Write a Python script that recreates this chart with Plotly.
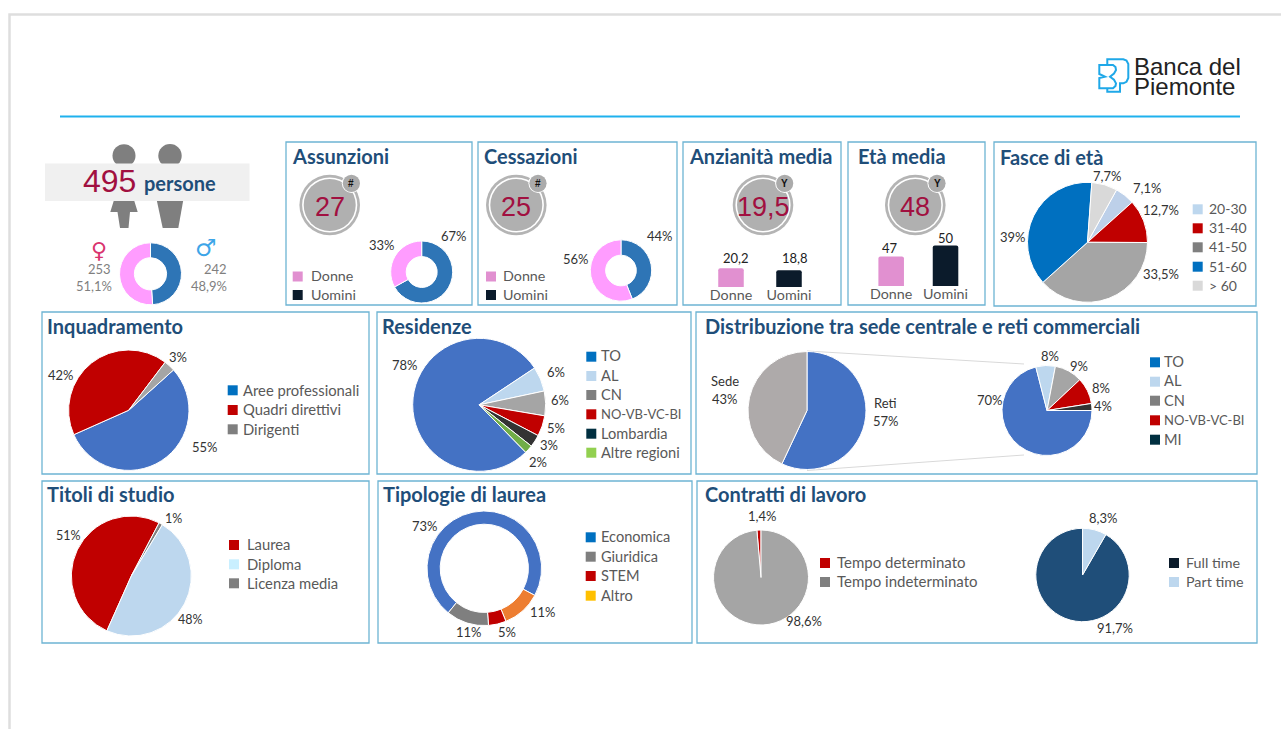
import plotly.graph_objects as go

W, H = 1281, 729

# ---------- data ----------
total_people = "495"
total_word = "persone"
gender_names = ["Uomini", "Donne"]
gender_values = [48.9, 51.1]
gender_counts = ["242", "253"]
gender_pct = ["48,9%", "51,1%"]

assunzioni_total = "27"
assunzioni_values = [67, 33]
assunzioni_labels = ["67%", "33%"]
cessazioni_total = "25"
cessazioni_values = [44, 56]
cessazioni_labels = ["44%", "56%"]
sex_legend = ["Donne", "Uomini"]

anzianita_total = "19,5"
anzianita_cats = ["Donne", "Uomini"]
anzianita_values = [20.2, 18.8]
eta_total = "48"
eta_cats = ["Donne", "Uomini"]
eta_values = [47, 50]

fasce_legend = ["20-30", "31-40", "41-50", "51-60", "> 60"]
fasce_values = [5.3, 11.7, 38.3, 37.8, 6.9]
fasce_labels = ["7,1%", "12,7%", "33,5%", "39%", "7,7%"]

inq_legend = ["Aree professionali", "Quadri direttivi", "Dirigenti"]
inq_values = [55, 42, 3]
inq_labels = ["55%", "42%", "3%"]

res_legend = ["TO", "AL", "CN", "NO-VB-VC-BI", "Lombardia", "Altre regioni"]
res_values = [78, 6, 6, 5, 3, 2]
res_labels = ["78%", "6%", "6%", "5%", "3%", "2%"]

sede_names = ["Reti", "Sede"]
sede_values = [57, 43]
sede_labels = ["57%", "43%"]
reti_legend = ["TO", "AL", "CN", "NO-VB-VC-BI", "MI"]
reti_values = [71, 7, 10, 9.5, 2.5]
reti_labels = ["70%", "8%", "9%", "8%", "4%"]

titoli_legend = ["Laurea", "Diploma", "Licenza media"]
titoli_values = [51, 48, 1]
titoli_labels = ["51%", "48%", "1%"]

lau_legend = ["Economica", "Giuridica", "STEM", "Altro"]
lau_values = [72, 12, 5, 11]
lau_labels = ["73%", "11%", "5%", "11%"]

det_legend = ["Tempo determinato", "Tempo indeterminato"]
det_values = [1.4, 98.6]
det_labels = ["1,4%", "98,6%"]
ft_legend = ["Full time", "Part time"]
ft_values = [91.7, 8.3]
ft_labels = ["91,7%", "8,3%"]

# ---------- styles ----------
NAVY = "#1F4E79"
CRIM = "#A11040"
TXT = "#333333"
LEG = "#595959"
BORDER = "#6DB4D3"
SANS = "Lato"
ARIAL = "Liberation Sans"


def px(x):
    return x / W


def py(y):
    return 1 - y / H


shapes, annots = [], []
fig = go.Figure()


def text(x, y, s, size=13, color=TXT, anchor="center", family=SANS, bold=False):
    annots.append(dict(
        x=px(x), y=py(y - 0.7), xref="paper", yref="paper", showarrow=False,
        text=f"<b>{s}</b>" if bold else s, xanchor=anchor, yanchor="middle",
        font=dict(size=size, color=color, family=family), borderpad=0, borderwidth=0))


def rect(x0, y0, x1, y1, fill=None, line=None, lw=0, layer="below"):
    shapes.append(dict(
        type="rect", xref="paper", yref="paper", x0=px(x0), x1=px(x1), y0=py(y0), y1=py(y1),
        fillcolor=fill or "rgba(0,0,0,0)", line=dict(color=line or "rgba(0,0,0,0)", width=lw), layer=layer))


def circle(cx, cy, r, fill, line=None, lw=0, layer="below"):
    shapes.append(dict(
        type="circle", xref="paper", yref="paper",
        x0=px(cx - r), x1=px(cx + r), y0=py(cy - r), y1=py(cy + r),
        fillcolor=fill, line=dict(color=line or "rgba(0,0,0,0)", width=lw), layer=layer))


def poly(points, fill=None, line=None, lw=0, close=True):
    d = "M " + " L ".join(f"{px(a):.5f},{py(b):.5f}" for a, b in points) + (" Z" if close else "")
    shapes.append(dict(
        type="path", xref="paper", yref="paper", path=d, fillcolor=fill or "rgba(0,0,0,0)",
        line=dict(color=line or "rgba(0,0,0,0)", width=lw), layer="below"))


def pie(cx, cy, r, values, colors, rotation=0, hole=0, names=None):
    fig.add_trace(go.Pie(
        values=values, labels=names or [str(i) for i in range(len(values))], sort=False,
        direction="clockwise", rotation=rotation, hole=hole, textinfo="none", hoverinfo="none",
        showlegend=False, marker=dict(colors=colors, line=dict(color="white", width=1)),
        domain=dict(x=[px(cx - r), px(cx + r)], y=[py(cy + r), py(cy - r)])))


def legend(x_sw, x_txt, ys, names, colors, size=14):
    for y, n, c in zip(ys, names, colors):
        rect(x_sw, y - 5, x_sw + 10, y + 5, fill=c)
        text(x_txt, y, n, size=13 if n.startswith("NO-") else size, color=LEG, anchor="left")


def kpi(cx, cy, value, badge, size=27):
    circle(cx, cy, 30.3, "#B4B4B4")
    circle(cx, cy, 27.6, "#FFFFFF")
    circle(cx, cy, 26, "#B0B0B0")
    text(cx, cy + 3, value, size=size, color=CRIM, family=ARIAL)
    circle(cx + 21.7, cy - 21.7, 9.6, "#FFFFFF")
    circle(cx + 21.7, cy - 21.7, 8.6, "#ABABAB")
    text(cx + 21.7, cy - 21.2, badge, size=10, color="#111111", family=ARIAL, bold=True)


# ---------- page ----------
poly([(9.5, 729), (9.5, 14.5), (1281, 14.5)], line="#DEDEDE", lw=2.5, close=False)
poly([(60, 116.5), (1240, 116.5)], line="#1FB1EE", lw=2, close=False)

# logo
LOGO = "#1FA8E8"
poly([(1107.3, 65), (1107.3, 59.3), (1123.3, 59.3), (1126.5, 60.5), (1128.3, 64), (1128.3, 78),
      (1126.5, 81.8), (1123.3, 83.3), (1120, 83.3), (1120, 91.7), (1107.3, 91.7), (1107.3, 88.3)],
     line=LOGO, lw=2, close=False)
poly([(1099.3, 65), (1113, 65), (1115.5, 67), (1116, 70), (1114, 73.5), (1110, 76.7), (1114, 79.7), (1116, 83.3),
      (1115.5, 86), (1113, 88.3), (1099.3, 88.3), (1099.3, 78), (1105, 76.7), (1099.3, 74)],
     line=LOGO, lw=2)
text(1134, 67, "Banca del", size=24, color="#222222", anchor="left", family=ARIAL)
text(1134, 87.5, "Piemonte", size=24, color="#222222", anchor="left", family=ARIAL)

# panels
panels = [
    (286, 142, 472, 305, "Assunzioni", 291.5, 157),
    (478, 142, 677, 305, "Cessazioni", 484, 157),
    (683, 142, 841, 305, "Anzianità media", 688.5, 157),
    (848, 142, 985, 305, "Età media", 858, 157),
    (994, 142, 1256, 306, "Fasce di età", 999.5, 158),
    (42, 312, 369, 474, "Inquadramento", 47, 327),
    (377, 312, 691, 474, "Residenze", 382, 327),
    (696, 312, 1257, 474, "Distribuzione tra sede centrale e reti commerciali", 705, 327),
    (42, 481, 369, 643, "Titoli di studio", 47, 495),
    (378, 481, 692, 643, "Tipologie di laurea", 382.5, 495),
    (697, 481, 1257, 643, "Contratti di lavoro", 705, 495),
]
for x0, y0, x1, y1, title, tx, ty in panels:
    rect(x0, y0, x1, y1, line=BORDER, lw=1.3)
    text(tx, ty, title, size=20, color=NAVY, anchor="left", bold=True)

# people
GREY = "#7F7F7F"
circle(124, 155.7, 11.5, GREY)
circle(170, 155.7, 11.7, GREY)
poly([(114, 200), (134, 200), (137.7, 212), (130, 212), (128.5, 228), (120, 228), (117.5, 212), (110.3, 212)], fill=GREY)
poly([(156.7, 200), (183.3, 200), (178.3, 228), (162.7, 228)], fill=GREY)
rect(45, 163.5, 249.5, 201, fill="#F0F0F0")
text(109, 182, total_people, size=32, color=CRIM, family=ARIAL)
text(144, 184, total_word, size=20, color=NAVY, anchor="left", bold=True)

DONUT = ["#2E75B6", "#FF9CFF"]
pie(150.5, 273.8, 31, gender_values, DONUT, hole=0.52, names=gender_names)
text(99, 251, "♀", size=22, color="#D9336E", family="DejaVu Sans")
text(206, 249, "♂", size=24, color="#3DA5E8", family="DejaVu Sans")
text(111, 270, gender_counts[1], size=13, color=GREY, anchor="right")
text(112, 287, gender_pct[1], size=13, color=GREY, anchor="right")
text(227, 270, gender_counts[0], size=13, color=GREY, anchor="right")
text(227, 287, gender_pct[0], size=13, color=GREY, anchor="right")

# assunzioni / cessazioni
SEX = ["#E190D0", "#0B1B2B"]
kpi(329.7, 205, assunzioni_total, "#")
pie(421.7, 272, 31, assunzioni_values, DONUT, hole=0.5)
text(454, 236.7, assunzioni_labels[0])
text(382.3, 246, assunzioni_labels[1])
legend(292.7, 311, [276.5, 295], sex_legend, SEX, size=14.3)

kpi(516.3, 205, cessazioni_total, "#")
pie(621, 270.5, 30.7, cessazioni_values, DONUT, hole=0.5)
text(660, 236.7, cessazioni_labels[0])
text(575.7, 260, cessazioni_labels[1])
legend(486, 502.7, [276.5, 295], sex_legend, SEX, size=14.3)

# anzianita / eta bars
kpi(763, 205, anzianita_total, "Y")
kpi(915.3, 205, eta_total, "Y")
fig.add_trace(go.Bar(x=anzianita_cats, y=anzianita_values, marker=dict(color=SEX, cornerradius=2, line=dict(width=0)),
                     width=0.44, xaxis="x", yaxis="y", showlegend=False, hoverinfo="none"))
fig.add_trace(go.Bar(x=eta_cats, y=eta_values, marker=dict(color=SEX, cornerradius=2, line=dict(width=0)),
                     width=0.47, xaxis="x2", yaxis="y2", showlegend=False, hoverinfo="none"))
text(736, 258.7, str(anzianita_values[0]).replace(".", ","), color="#222222")
text(795, 259, str(anzianita_values[1]).replace(".", ","), color="#222222")
text(890.3, 249, str(eta_values[0]), color="#222222")
text(946, 238.3, str(eta_values[1]), color="#222222")

# fasce
pie(1087.5, 242.3, 60, fasce_values, ["#BDD0E9", "#C00000", "#A5A5A5", "#0070C0", "#D9D9D9"], rotation=29)
for (x, y), s in zip([(1146.7, 188.3), (1161, 211), (1161, 275), (1012.7, 237.3), (1107.3, 176.7)], fasce_labels):
    text(x, y, s)
legend(1192.7, 1208.7, [209.3, 228.3, 247.3, 266.7, 285.7], fasce_legend,
       ["#BDD7EE", "#C00000", "#7F7F7F", "#0070C0", "#D9D9D9"])

# inquadramento
pie(128.8, 410.2, 60.2, inq_values, ["#4472C4", "#C00000", "#A5A5A5"], rotation=48)
for (x, y), s in zip([(205, 447.7), (60.7, 375.7), (178.3, 357.7)], inq_labels):
    text(x, y, s)
legend(227.7, 243.3, [390.3, 410, 429.3], inq_legend, ["#0070C0", "#C00000", "#7F7F7F"], size=14.8)

# residenze
pie(479.2, 404.8, 66.5, res_values, ["#4472C4", "#BDD7EE", "#A5A5A5", "#C00000", "#333333", "#70AD47"], rotation=135.6)
for (x, y), s in zip([(405, 365.7), (555.7, 372.3), (560.3, 400.7), (555.7, 429), (549, 446), (537.7, 462.3)], res_labels):
    text(x, y, s)
legend(586.3, 601.2, [356.7, 376, 395, 414.3, 433.7, 452.7], res_legend,
       ["#0070C0", "#BDD7EE", "#7F7F7F", "#C00000", "#002F40", "#92D050"], size=14.6)

# distribuzione
poly([(807, 351), (1024, 364)], line="#D9D9D9", lw=1, close=False)
poly([(807, 470.5), (1024, 455)], line="#D9D9D9", lw=1, close=False)
pie(807, 410.5, 59, sede_values, ["#4472C4", "#AEAAAA"], names=sede_names)
text(885, 404, sede_names[0])
text(886, 422, sede_labels[0])
text(725, 382, sede_names[1])
text(725, 400, sede_labels[1])
pie(1047, 410.5, 45, reti_values, ["#4472C4", "#BDD7EE", "#A5A5A5", "#C00000", "#333333"], rotation=90)
for (x, y), s in zip([(990, 401), (1050, 357), (1079, 367), (1101, 389), (1103, 407)], reti_labels):
    text(x, y, s)
legend(1150, 1163.5, [362.3, 381.7, 400.7, 420.3, 439.7], reti_legend,
       ["#0070C0", "#BDD7EE", "#7F7F7F", "#C00000", "#002F40"], size=14.6)

# titoli (drawn clockwise: Laurea, Licenza media, Diploma)
pie(131.3, 576, 60, [titoli_values[0], titoli_values[2], titoli_values[1]], ["#C00000", "#7F7F7F", "#BDD7EE"], rotation=204)
for (x, y), s in zip([(68.3, 536), (190.3, 620), (173.3, 519)], titoli_labels):
    text(x, y, s, size=12.5)
legend(229, 247, [545, 564.3, 583.3], titoli_legend, ["#C00000", "#C9EFFF", "#7F7F7F"], size=14.8)

# tipologie (drawn clockwise: Economica, Altro, STEM, Giuridica)
pie(484.3, 568.3, 57.3, [lau_values[0], lau_values[3], lau_values[2], lau_values[1]],
    ["#4472C4", "#ED7D31", "#C00000", "#7F7F7F"], rotation=219, hole=0.77)
for (x, y), s in zip([(425, 526.7), (469, 632.7), (507, 632.7), (543.3, 612.3)], lau_labels):
    text(x, y, s)
legend(585.7, 601.2, [537.3, 556.7, 576, 595.7], lau_legend, ["#0070C0", "#7F7F7F", "#C00000", "#FFC000"], size=14.6)

# contratti
pie(761, 577.5, 47.5, det_values, ["#C00000", "#A5A5A5"], rotation=-5)
text(762, 517, det_labels[0])
text(804, 622, det_labels[1])
legend(820, 837, [563, 582], det_legend, ["#C00000", "#7F7F7F"], size=15)
pie(1082.5, 575, 46.7, ft_values, ["#1F4E79", "#BDD7EE"], rotation=30)
text(1115, 629, ft_labels[0])
text(1103, 519, ft_labels[1])
legend(1169, 1186, [563, 582], ft_legend, ["#0B1B2B", "#BDD7EE"], size=14.3)

bar_axis = dict(showgrid=False, zeroline=False, showline=False, ticks="", fixedrange=True,
                tickfont=dict(size=14.3, color=LEG, family=SANS), type="category", range=[-0.5, 1.5],
                ticklabelstandoff=-2)
hidden_y = dict(visible=False, showgrid=False, zeroline=False, fixedrange=True)

fig.update_layout(
    width=W, height=H, margin=dict(l=0, r=0, t=0, b=0), autosize=False,
    paper_bgcolor="white", plot_bgcolor="rgba(0,0,0,0)", showlegend=False, bargap=0.5,
    shapes=shapes, annotations=annots,
    xaxis=dict(domain=[px(702), px(818)], anchor="y", **bar_axis),
    yaxis=dict(domain=[py(287), py(245)], anchor="x", range=[7, 36.4], **hidden_y),
    xaxis2=dict(domain=[px(864), px(972.7)], anchor="y2", **bar_axis),
    yaxis2=dict(domain=[py(286), py(240)], anchor="x2", range=[39, 51.5], **hidden_y),
)

fig.write_html("out.html", config={"displayModeBar": False},
               post_script="document.body.style.margin='0';document.body.style.overflow='hidden';")
